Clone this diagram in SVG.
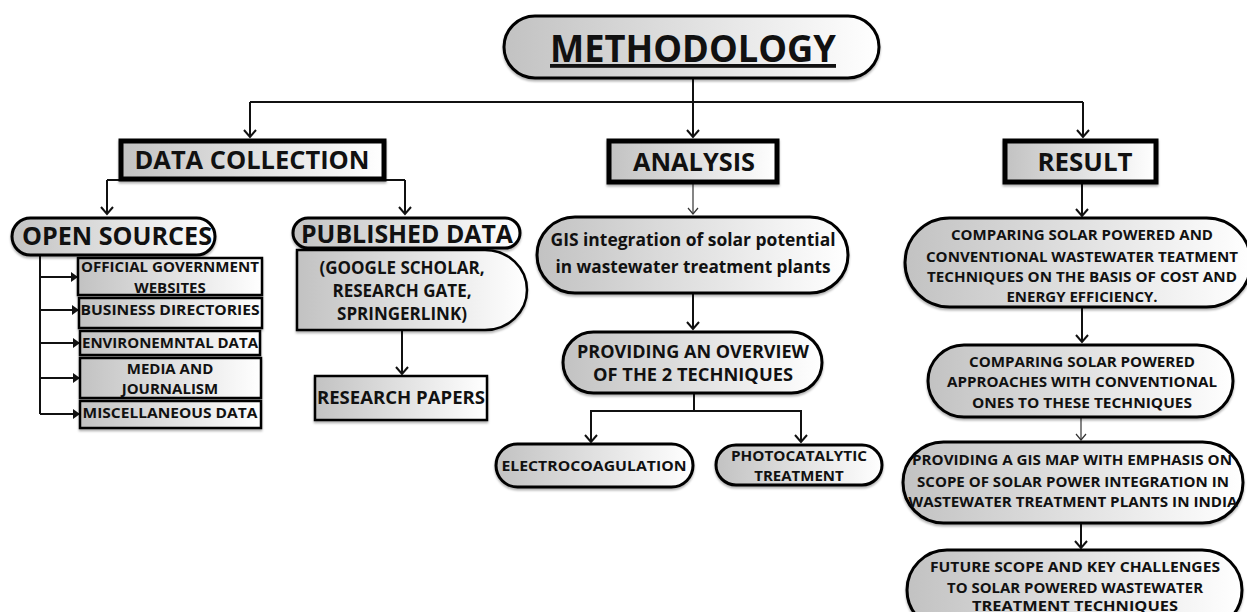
<svg xmlns="http://www.w3.org/2000/svg" width="1247" height="612" viewBox="0 0 1247 612">
<style>
  .n { fill: url(#g); stroke: #000; stroke-width: 3; filter: url(#sh); }
  .hb { fill: url(#g); stroke: #000; stroke-width: 5; filter: url(#sh); }
  .sb { fill: url(#g); stroke: #000; stroke-width: 2.5; filter: url(#sh); }
  text { font-family: "Open Sans", "Liberation Sans", sans-serif; font-weight: 700; fill: #111; text-anchor: middle; }
  .t1 { font-size: 38px; }
  .t2 { font-size: 25px; }
  .t3 { font-size: 17px; }
  .t4 { font-size: 15px; }
  .t5 { font-size: 15px; }
  .c { fill: none; stroke: #111; stroke-width: 2; }
  .thin { fill: none; stroke: #333; stroke-width: 1.2; }
</style>
<defs>
  <linearGradient id="g" x1="0" y1="0" x2="1" y2="0">
    <stop offset="0" stop-color="#c2c2c2"/>
    <stop offset="1" stop-color="#ffffff"/>
  </linearGradient>
  <filter id="sh" x="-10%" y="-20%" width="120%" height="150%">
    <feDropShadow dx="0" dy="2" stdDeviation="1.2" flood-color="#000" flood-opacity="0.3"/>
  </filter>
  <marker id="ch" markerUnits="userSpaceOnUse" markerWidth="16" markerHeight="16" refX="8" refY="8" orient="auto">
    <path d="M1,2 L8,8 L1,14" fill="none" stroke="#111" stroke-width="2"/>
  </marker>
  <marker id="chs" markerUnits="userSpaceOnUse" markerWidth="14" markerHeight="14" refX="7" refY="7" orient="auto">
    <path d="M1,2 L7,7 L1,12" fill="none" stroke="#333" stroke-width="1.2"/>
  </marker>
  <marker id="tri" markerUnits="userSpaceOnUse" markerWidth="10" markerHeight="10" refX="7" refY="5" orient="auto">
    <path d="M0,0 L7,5 L0,10 Z" fill="#111"/>
  </marker>
</defs>
<rect width="1247" height="612" fill="#fff"/>

<g id="connectors">
  <path class="c" d="M693,78 V102 M250,102 H1083"/>
  <path class="c" d="M250,102 V137" marker-end="url(#ch)"/>
  <path class="c" d="M693,102 V137" marker-end="url(#ch)"/>
  <path class="c" d="M1083,102 V137" marker-end="url(#ch)"/>
  <path class="c" d="M107,180 H405"/>
  <path class="c" d="M107,180 V214" marker-end="url(#ch)"/>
  <path class="c" d="M405,180 V214" marker-end="url(#ch)"/>
  <path class="c" d="M40,256 V414"/>
  <path class="c" d="M40,277 H78" marker-end="url(#tri)"/>
  <path class="c" d="M40,310 H79" marker-end="url(#tri)"/>
  <path class="c" d="M40,343 H80" marker-end="url(#tri)"/>
  <path class="c" d="M40,378 H80" marker-end="url(#tri)"/>
  <path class="c" d="M40,414 H80" marker-end="url(#tri)"/>
  <path class="c" d="M402,331 V374" marker-end="url(#ch)"/>
  <path class="thin" d="M693,184 V214" marker-end="url(#chs)"/>
  <path class="c" d="M693,294 V329" marker-end="url(#ch)"/>
  <path class="c" d="M694,394 V411 H591 M694,411 H801"/>
  <path class="c" d="M591,410 V442" marker-end="url(#ch)"/>
  <path class="c" d="M801,410 V442" marker-end="url(#ch)"/>
  <path class="c" d="M1082,184 V216" marker-end="url(#ch)"/>
  <path class="c" d="M1082,308 V342" marker-end="url(#ch)"/>
  <path class="thin" d="M1081,418 V440" marker-end="url(#chs)"/>
  <path class="c" d="M1081,524 V548" marker-end="url(#ch)"/>
</g>

<g id="methodology">
  <rect class="n" x="504" y="16" width="375" height="62" rx="31"/>
  <text class="t1" x="693" y="62" text-decoration="underline" textLength="286" lengthAdjust="spacingAndGlyphs">METHODOLOGY</text>
</g>

<g id="data-collection">
  <rect class="hb" x="121" y="141" width="263" height="38"/>
  <text class="t2" x="252" y="169" textLength="235" lengthAdjust="spacingAndGlyphs">DATA COLLECTION</text>
</g>
<g id="analysis">
  <rect class="hb" x="609" y="141" width="168" height="41"/>
  <text class="t2" x="694" y="171" textLength="122" lengthAdjust="spacingAndGlyphs">ANALYSIS</text>
</g>
<g id="result">
  <rect class="hb" x="1005" y="141" width="151" height="41"/>
  <text class="t2" x="1085" y="171" textLength="95" lengthAdjust="spacingAndGlyphs">RESULT</text>
</g>

<g id="open-sources">
  <rect class="n" x="12" y="218" width="203" height="37" rx="18.5"/>
  <text class="t2" x="117" y="245" textLength="190" lengthAdjust="spacingAndGlyphs">OPEN SOURCES</text>
</g>
<g id="official">
  <rect class="sb" x="78" y="258" width="184" height="37"/>
  <text class="t4" x="170" y="272" textLength="178" lengthAdjust="spacingAndGlyphs">OFFICIAL GOVERNMENT</text>
  <text class="t4" x="170" y="293">WEBSITES</text>
</g>
<g id="business">
  <rect class="sb" x="79" y="298" width="183" height="30"/>
  <text class="t4" x="170" y="315" textLength="179" lengthAdjust="spacingAndGlyphs">BUSINESS DIRECTORIES</text>
</g>
<g id="environmental">
  <rect class="sb" x="80" y="331" width="180" height="24"/>
  <text class="t4" x="170" y="348" textLength="176" lengthAdjust="spacingAndGlyphs">ENVIRONEMNTAL DATA</text>
</g>
<g id="media">
  <rect class="sb" x="80" y="358" width="181" height="40"/>
  <text class="t4" x="170" y="374">MEDIA AND</text>
  <text class="t4" x="170" y="394">JOURNALISM</text>
</g>
<g id="misc">
  <rect class="sb" x="80" y="401" width="181" height="27"/>
  <text class="t4" x="170" y="418" textLength="175" lengthAdjust="spacingAndGlyphs">MISCELLANEOUS DATA</text>
</g>

<g id="published-data">
  <rect class="n" x="293" y="218" width="227" height="30" rx="15"/>
  <text class="t2" x="407" y="243" textLength="212" lengthAdjust="spacingAndGlyphs">PUBLISHED DATA</text>
</g>
<g id="published-sources">
  <path class="sb" d="M297,250 H485 A42,40 0 0 1 527,290 A42,40 0 0 1 485,330 H297 Z"/>
  <text class="t3" x="402" y="274">(GOOGLE SCHOLAR,</text>
  <text class="t3" x="402" y="297">RESEARCH GATE,</text>
  <text class="t3" x="402" y="320">SPRINGERLINK)</text>
</g>
<g id="research-papers">
  <rect class="sb" x="315" y="376" width="172" height="44"/>
  <text class="t3" x="401" y="404" textLength="168" lengthAdjust="spacingAndGlyphs">RESEARCH PAPERS</text>
</g>

<g id="gis">
  <rect class="n" x="537" y="217" width="311" height="76" rx="38"/>
  <text class="t3" x="693" y="246" font-size="18" textLength="285" lengthAdjust="spacingAndGlyphs">GIS integration of solar potential</text>
  <text class="t3" x="693" y="273" font-size="18" textLength="275" lengthAdjust="spacingAndGlyphs">in wastewater treatment plants</text>
</g>
<g id="overview">
  <rect class="n" x="563" y="332" width="259" height="61" rx="30.5"/>
  <text class="t3" x="693" y="358" textLength="232" lengthAdjust="spacingAndGlyphs">PROVIDING AN OVERVIEW</text>
  <text class="t3" x="693" y="381" textLength="200" lengthAdjust="spacingAndGlyphs">OF THE 2 TECHNIQUES</text>
</g>
<g id="electrocoagulation">
  <rect class="n" x="496" y="444" width="197" height="43" rx="21.5"/>
  <text class="t4" x="594" y="471" textLength="185" lengthAdjust="spacingAndGlyphs">ELECTROCOAGULATION</text>
</g>
<g id="photocatalytic">
  <rect class="n" x="716" y="445" width="166" height="40" rx="20"/>
  <text class="t4" x="799" y="461" textLength="136" lengthAdjust="spacingAndGlyphs">PHOTOCATALYTIC</text>
  <text class="t4" x="799" y="481">TREATMENT</text>
</g>

<g id="compare-cost">
  <rect class="n" x="905" y="218" width="346" height="89" rx="44.5"/>
  <text class="t5" x="1082" y="240" textLength="262" lengthAdjust="spacingAndGlyphs">COMPARING SOLAR POWERED AND</text>
  <text class="t5" x="1082" y="262" textLength="312" lengthAdjust="spacingAndGlyphs">CONVENTIONAL WASTEWATER TEATMENT</text>
  <text class="t5" x="1082" y="282" textLength="310" lengthAdjust="spacingAndGlyphs">TECHNIQUES ON THE BASIS OF COST AND</text>
  <text class="t5" x="1082" y="302">ENERGY EFFICIENCY.</text>
</g>
<g id="compare-approaches">
  <rect class="n" x="928" y="345" width="305" height="72" rx="36"/>
  <text class="t5" x="1082" y="367" textLength="226" lengthAdjust="spacingAndGlyphs">COMPARING SOLAR POWERED</text>
  <text class="t5" x="1082" y="387" textLength="270" lengthAdjust="spacingAndGlyphs">APPROACHES WITH CONVENTIONAL</text>
  <text class="t5" x="1082" y="408" textLength="220" lengthAdjust="spacingAndGlyphs">ONES TO THESE TECHNIQUES</text>
</g>
<g id="gis-map">
  <rect class="n" x="903" y="442" width="340" height="81" rx="40.5"/>
  <text class="t5" x="1072" y="465" textLength="320" lengthAdjust="spacingAndGlyphs">PROVIDING A GIS MAP WITH EMPHASIS ON</text>
  <text class="t5" x="1073" y="487" textLength="312" lengthAdjust="spacingAndGlyphs">SCOPE OF SOLAR POWER INTEGRATION IN</text>
  <text class="t5" x="1073" y="507" textLength="329" lengthAdjust="spacingAndGlyphs">WASTEWATER TREATMENT PLANTS IN INDIA</text>
</g>
<g id="future-scope">
  <rect class="n" x="907" y="550" width="335" height="80" rx="40"/>
  <text class="t5" x="1075" y="572" textLength="290" lengthAdjust="spacingAndGlyphs">FUTURE SCOPE AND KEY CHALLENGES</text>
  <text class="t5" x="1075" y="593" textLength="256" lengthAdjust="spacingAndGlyphs">TO SOLAR POWERED WASTEWATER</text>
  <text class="t5" x="1075" y="611" textLength="206" lengthAdjust="spacingAndGlyphs">TREATMENT TECHNIQUES</text>
</g>
</svg>
